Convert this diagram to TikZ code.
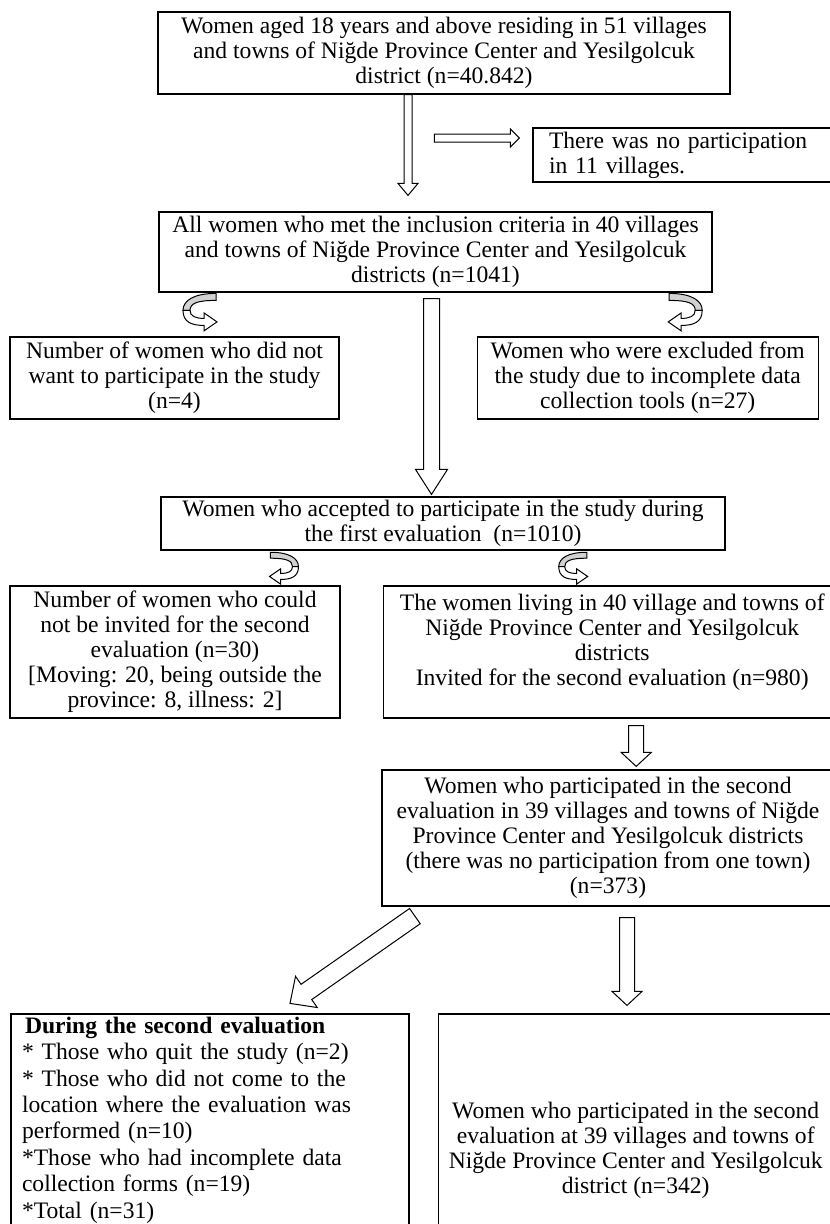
\documentclass[tikz,border=0pt]{standalone}
\usepackage{fontspec}
\setmainfont{Liberation Serif}
\usetikzlibrary{calc,positioning}

\newcommand{\bodyfont}{\fontsize{23.6}{25}\selectfont}
% hollow block arrow: from, to, half shaft, half head, head length
\newcommand{\blockarr}[5]{%
  \coordinate (ba-h) at ($(#2)!#5!(#1)$);
  \draw[arrowline] ($(#1)!#3!90:(#2)$) -- ($(ba-h)!#3!-90:(#1)$) -- ($(ba-h)!#4!-90:(#1)$) -- (#2)
    -- ($(ba-h)!#4!90:(#1)$) -- ($(ba-h)!#3!90:(#1)$) -- ($(#1)!#3!-90:(#2)$) -- cycle;}
% curved ribbon arrow: centre, xscale (1 = bulge left), scale
\newcommand{\curvedarr}[3]{%
  \begin{scope}[shift={(#1)}, xscale=#2, scale=#3]
    \draw[arrowline, fill=black!18] (16pt,19pt) .. controls (-6pt,19pt) and (-17pt,12pt) .. (-17pt,2pt)
      -- (-10pt,2pt) .. controls (-10pt,9pt) and (-3pt,12pt) .. (16pt,12pt) -- cycle;
    \draw[arrowline] (-17pt,2pt) .. controls (-17pt,-10pt) and (-8pt,-13pt) .. (4pt,-13pt)
      -- (4pt,-18.5pt) -- (17pt,-9.5pt) -- (4pt,-0.5pt) -- (4pt,-6pt)
      .. controls (-4pt,-6pt) and (-10pt,-4pt) .. (-10pt,2pt) -- cycle;
  \end{scope}}

\begin{document}
\begin{tikzpicture}[x=1pt, y=-1pt,
		box/.style={draw, line width=1.2pt, align=center, inner sep=0pt, font=\bodyfont},
		arrowline/.style={draw, fill=white, line width=1pt, line join=miter}]
		\useasboundingbox (0,0) rectangle (830,1224);
		\clip (0,0) rectangle (830,1224);
		\node (b1) [box, minimum width=572pt, minimum height=82pt] at (444,53)
			{Women aged 18 years and above residing in 51 villages\\ and towns of Niğde Province Center and Yesilgolcuk\\ district (n=40.842)};
		\node (np) [box, align=left, text width=267pt, minimum width=299pt, minimum height=54pt] at (682.5,155)
			{There was no participation\\ in 11 villages.};
		\node (b2) [box, minimum width=553pt, minimum height=80pt] at (435.5,252)
			{All women who met the inclusion criteria in 40 villages\\ and towns of Niğde Province Center and Yesilgolcuk\\ districts (n=1041)};
		\node (bA) [box, minimum width=329pt, minimum height=82pt] at (174.5,378)
			{Number of women who did not\\ want to participate in the study\\ (n=4)};
		\node (bB) [box, minimum width=341pt, minimum height=82pt, right=137pt of bA]
			{Women who were excluded from\\ the study due to incomplete data\\ collection tools (n=27)};
		\node (bC) [box, minimum width=564pt, minimum height=53pt] at (443,523.5)
			{Women who accepted to participate in the study during\\ the first evaluation \ (n=1010)};
		\node (bD) [box, minimum width=330pt, minimum height=132pt] at (175,652)
			{Number of women who could\\ not be invited for the second\\ evaluation (n=30)\\ {[}Moving: 20, being outside the\\ province: 8, illness: 2]};
		\node (bE) [box, minimum width=458pt, minimum height=132pt, right=42pt of bD]
			{The women living in 40 village and towns of\\ Niğde Province Center and Yesilgolcuk\\ districts\\ Invited for the second evaluation (n=980)\\ \mbox{}};
		\node (bF) [box, minimum width=452pt, minimum height=136pt] at (608,838)
			{Women who participated in the second\\ evaluation in 39 villages and towns of Niğde\\ Province Center and Yesilgolcuk districts\\ (there was no participation from one town)\\ (n=373)};
		\node (bH) [box, align=left, font=\fontsize{23.6}{26.4}\selectfont, text width=376pt, minimum width=398pt, minimum height=212pt] at (210,1120)
			{\hspace*{3pt}\textbf{During the second evaluation}\\ {*} Those who quit the study (n=2)\\ {*} Those who did not come to the\\ location where the evaluation was\\ performed (n=10)\\ {*}Those who had incomplete data\\ collection forms (n=19)\\ {*}Total (n=31)};
		\node (bG) [box, minimum width=395pt, minimum height=272pt, right=28pt of bH.north east, anchor=north west]
			{Women who participated in the second\\ evaluation at 39 villages and towns of\\ Niğde Province Center and Yesilgolcuk\\ district (n=342)};
		\coordinate (a1s) at ($(b1.south)+(-36,0)$);
		\coordinate (a1e) at ($(a1s |- b2.north)+(0,-16)$);
		\coordinate (a2e) at ($(np.west)+(-13,-17)$);
		\coordinate (a2s) at ($(a2e)+(-85,0)$);
		\coordinate (a3s) at ($(b2.south)+(-4,6)$);
		\coordinate (a3e) at ($(a3s |- bC.north)+(0,-2)$);
		\coordinate (a4s) at ($(bE.south)+(24,7)$);
		\coordinate (a4e) at ($(a4s |- bF.north)+(0,-3)$);
		\coordinate (a5s) at ($(bF.south)+(19,11)$);
		\coordinate (a5e) at ($(a5s |- bG.north)+(0,-8)$);
		\coordinate (a6s) at ($(bF.south west)+(33.5,9.5)$);
		\coordinate (a6e) at ($(bH.north)+(80,-10)$);
		\blockarr{a1s}{a1e}{4pt}{10pt}{12pt}
		\blockarr{a2s}{a2e}{4pt}{9pt}{9pt}
		\blockarr{a3s}{a3e}{8pt}{16pt}{25pt}
		\blockarr{a4s}{a4e}{7.5pt}{15pt}{14pt}
		\blockarr{a5s}{a5e}{7.5pt}{15pt}{14pt}
		\blockarr{a6s}{a6e}{9.3pt}{19pt}{20pt}
		\coordinate (c1) at ($(bA.north)+(25.5,-24)$);
		\coordinate (c2) at ($(bB.north)+(37.5,-24)$);
		\coordinate (c3) at ($(bD.north)+(109,-17)$);
		\coordinate (c4) at ($(bE.north)+(-39,-17)$);
		\curvedarr{c1}{1}{1}
		\curvedarr{c2}{-1}{1}
		\curvedarr{c3}{-1}{0.85}
		\curvedarr{c4}{1}{0.85}
	\end{tikzpicture}
\end{document}
